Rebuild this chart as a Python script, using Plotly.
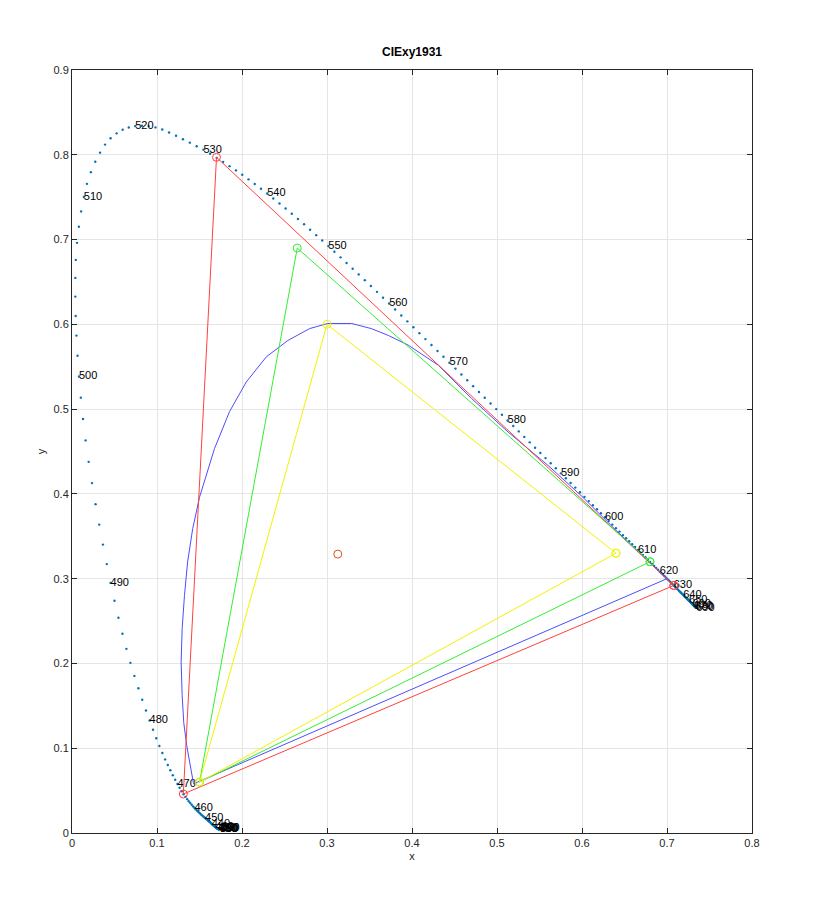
import plotly.graph_objects as go

# CIE 1931 2-degree spectral locus, one point per nm from 360 to 690 nm
locus_nm = list(range(360, 691))
locus_x = [
    0.1756, 0.1755, 0.1754, 0.1754, 0.1753, 0.1752, 0.1751, 0.1750, 0.1750, 0.1749,
    0.1748, 0.1747, 0.1747, 0.1746, 0.1745, 0.1745, 0.1744, 0.1743, 0.1742, 0.1742,
    0.1741, 0.1741, 0.1741, 0.1740, 0.1740, 0.1740, 0.1740, 0.1739, 0.1739, 0.1738,
    0.1738, 0.1738, 0.1737, 0.1737, 0.1736, 0.1736, 0.1735, 0.1735, 0.1734, 0.1734,
    0.1733, 0.1732, 0.1732, 0.1731, 0.1731, 0.1730, 0.1729, 0.1728, 0.1728, 0.1727,
    0.1726, 0.1725, 0.1724, 0.1723, 0.1722, 0.1721, 0.1720, 0.1718, 0.1717, 0.1716,
    0.1714, 0.1712, 0.1710, 0.1708, 0.1706, 0.1703, 0.1700, 0.1698, 0.1695, 0.1692,
    0.1689, 0.1685, 0.1681, 0.1677, 0.1673, 0.1669, 0.1664, 0.1659, 0.1654, 0.1649,
    0.1644, 0.1638, 0.1631, 0.1625, 0.1618, 0.1611, 0.1603, 0.1594, 0.1585, 0.1576,
    0.1566, 0.1556, 0.1545, 0.1534, 0.1522, 0.1510, 0.1497, 0.1484, 0.1470, 0.1455,
    0.1440, 0.1424, 0.1408, 0.1391, 0.1373, 0.1355, 0.1334, 0.1312, 0.1290, 0.1266,
    0.1241, 0.1214, 0.1186, 0.1157, 0.1127, 0.1096, 0.1063, 0.1028, 0.0991, 0.0953,
    0.0913, 0.0870, 0.0826, 0.0781, 0.0734, 0.0687, 0.0640, 0.0593, 0.0546, 0.0500,
    0.0454, 0.0409, 0.0364, 0.0320, 0.0277, 0.0235, 0.0196, 0.0160, 0.0130, 0.0104,
    0.0082, 0.0065, 0.0052, 0.0043, 0.0039, 0.0039, 0.0045, 0.0059, 0.0081, 0.0107,
    0.0139, 0.0176, 0.0222, 0.0274, 0.0330, 0.0389, 0.0454, 0.0525, 0.0596, 0.0668,
    0.0743, 0.0822, 0.0902, 0.0982, 0.1062, 0.1142, 0.1224, 0.1305, 0.1386, 0.1467,
    0.1547, 0.1625, 0.1702, 0.1778, 0.1854, 0.1929, 0.2003, 0.2077, 0.2150, 0.2223,
    0.2296, 0.2368, 0.2441, 0.2513, 0.2586, 0.2658, 0.2730, 0.2801, 0.2873, 0.2944,
    0.3016, 0.3087, 0.3159, 0.3230, 0.3302, 0.3373, 0.3445, 0.3516, 0.3588, 0.3659,
    0.3731, 0.3802, 0.3874, 0.3945, 0.4016, 0.4087, 0.4158, 0.4229, 0.4300, 0.4370,
    0.4441, 0.4511, 0.4581, 0.4650, 0.4719, 0.4788, 0.4856, 0.4924, 0.4991, 0.5058,
    0.5125, 0.5191, 0.5256, 0.5321, 0.5385, 0.5448, 0.5510, 0.5571, 0.5632, 0.5692,
    0.5752, 0.5810, 0.5866, 0.5921, 0.5976, 0.6029, 0.6079, 0.6128, 0.6176, 0.6223,
    0.6270, 0.6314, 0.6357, 0.6399, 0.6441, 0.6482, 0.6519, 0.6555, 0.6590, 0.6624,
    0.6658, 0.6688, 0.6717, 0.6746, 0.6774, 0.6801, 0.6825, 0.6849, 0.6872, 0.6894,
    0.6915, 0.6935, 0.6954, 0.6972, 0.6989, 0.7006, 0.7022, 0.7037, 0.7051, 0.7065,
    0.7079, 0.7092, 0.7104, 0.7116, 0.7128, 0.7140, 0.7150, 0.7160, 0.7170, 0.7180,
    0.7190, 0.7198, 0.7206, 0.7214, 0.7222, 0.7230, 0.7236, 0.7242, 0.7248, 0.7254,
    0.7260, 0.7265, 0.7270, 0.7274, 0.7279, 0.7283, 0.7287, 0.7290, 0.7294, 0.7297,
    0.7300, 0.7302, 0.7304, 0.7307, 0.7309, 0.7311, 0.7313, 0.7315, 0.7316, 0.7318,
    0.7320, 0.7321, 0.7323, 0.7324, 0.7326, 0.7327, 0.7328, 0.7330, 0.7331, 0.7333,
    0.7334, 0.7335, 0.7336, 0.7338, 0.7339, 0.7340, 0.7341, 0.7342, 0.7343, 0.7343,
    0.7344,
]
locus_y = [
    0.0053, 0.0053, 0.0053, 0.0053, 0.0053, 0.0053, 0.0053, 0.0052, 0.0052, 0.0052,
    0.0052, 0.0052, 0.0051, 0.0051, 0.0050, 0.0050, 0.0050, 0.0050, 0.0050, 0.0050,
    0.0050, 0.0050, 0.0050, 0.0050, 0.0050, 0.0050, 0.0050, 0.0050, 0.0049, 0.0049,
    0.0049, 0.0049, 0.0049, 0.0049, 0.0049, 0.0049, 0.0049, 0.0049, 0.0048, 0.0048,
    0.0048, 0.0048, 0.0048, 0.0048, 0.0048, 0.0048, 0.0048, 0.0048, 0.0048, 0.0048,
    0.0048, 0.0048, 0.0048, 0.0048, 0.0048, 0.0048, 0.0048, 0.0049, 0.0049, 0.0050,
    0.0051, 0.0052, 0.0053, 0.0055, 0.0056, 0.0058, 0.0060, 0.0062, 0.0064, 0.0066,
    0.0069, 0.0072, 0.0075, 0.0079, 0.0082, 0.0086, 0.0090, 0.0095, 0.0099, 0.0104,
    0.0109, 0.0114, 0.0120, 0.0126, 0.0132, 0.0138, 0.0145, 0.0153, 0.0161, 0.0169,
    0.0177, 0.0186, 0.0195, 0.0205, 0.0216, 0.0227, 0.0239, 0.0252, 0.0266, 0.0281,
    0.0297, 0.0314, 0.0333, 0.0353, 0.0375, 0.0399, 0.0426, 0.0457, 0.0493, 0.0533,
    0.0578, 0.0628, 0.0682, 0.0740, 0.0802, 0.0868, 0.0943, 0.1026, 0.1118, 0.1218,
    0.1327, 0.1445, 0.1572, 0.1708, 0.1853, 0.2007, 0.2172, 0.2350, 0.2539, 0.2739,
    0.2950, 0.3172, 0.3402, 0.3638, 0.3879, 0.4127, 0.4378, 0.4631, 0.4884, 0.5135,
    0.5384, 0.5629, 0.5867, 0.6098, 0.6327, 0.6548, 0.6760, 0.6961, 0.7151, 0.7332,
    0.7502, 0.7657, 0.7795, 0.7917, 0.8025, 0.8120, 0.8195, 0.8253, 0.8295, 0.8322,
    0.8338, 0.8343, 0.8338, 0.8323, 0.8298, 0.8262, 0.8224, 0.8184, 0.8143, 0.8101,
    0.8059, 0.8012, 0.7964, 0.7915, 0.7866, 0.7816, 0.7764, 0.7710, 0.7655, 0.7599,
    0.7543, 0.7485, 0.7426, 0.7366, 0.7305, 0.7243, 0.7180, 0.7116, 0.7052, 0.6988,
    0.6923, 0.6857, 0.6790, 0.6723, 0.6656, 0.6589, 0.6521, 0.6452, 0.6383, 0.6314,
    0.6245, 0.6175, 0.6105, 0.6035, 0.5966, 0.5896, 0.5826, 0.5756, 0.5686, 0.5617,
    0.5547, 0.5478, 0.5409, 0.5340, 0.5271, 0.5202, 0.5134, 0.5067, 0.5000, 0.4933,
    0.4866, 0.4801, 0.4737, 0.4672, 0.4608, 0.4544, 0.4483, 0.4422, 0.4362, 0.4302,
    0.4242, 0.4185, 0.4129, 0.4074, 0.4019, 0.3965, 0.3915, 0.3866, 0.3818, 0.3771,
    0.3725, 0.3681, 0.3638, 0.3596, 0.3555, 0.3514, 0.3477, 0.3442, 0.3407, 0.3373,
    0.3340, 0.3310, 0.3281, 0.3253, 0.3225, 0.3197, 0.3173, 0.3149, 0.3127, 0.3105,
    0.3083, 0.3064, 0.3046, 0.3028, 0.3010, 0.2993, 0.2978, 0.2963, 0.2948, 0.2934,
    0.2920, 0.2907, 0.2895, 0.2883, 0.2871, 0.2859, 0.2849, 0.2839, 0.2829, 0.2819,
    0.2809, 0.2801, 0.2793, 0.2785, 0.2777, 0.2770, 0.2764, 0.2758, 0.2752, 0.2746,
    0.2740, 0.2735, 0.2730, 0.2726, 0.2721, 0.2717, 0.2713, 0.2710, 0.2706, 0.2703,
    0.2700, 0.2698, 0.2696, 0.2693, 0.2691, 0.2689, 0.2687, 0.2685, 0.2684, 0.2682,
    0.2680, 0.2679, 0.2677, 0.2676, 0.2674, 0.2673, 0.2672, 0.2670, 0.2669, 0.2667,
    0.2666, 0.2665, 0.2664, 0.2662, 0.2661, 0.2660, 0.2659, 0.2658, 0.2657, 0.2657,
    0.2656,
]

# gamut triangles (closed), vertices R, G, B
rec2020_x = [0.708, 0.170, 0.131, 0.708]
rec2020_y = [0.292, 0.797, 0.046, 0.292]
p3_x = [0.680, 0.265, 0.150, 0.680]
p3_y = [0.320, 0.690, 0.060, 0.320]
srgb_x = [0.640, 0.300, 0.150, 0.640]
srgb_y = [0.330, 0.600, 0.060, 0.330]

# curved blue outline
curve_x = [0.143, 0.138, 0.135, 0.1315, 0.1296, 0.1284, 0.1296, 0.1323, 0.136,
           0.142, 0.150, 0.1677, 0.1853, 0.205, 0.2286, 0.254, 0.2796, 0.301,
           0.329, 0.352, 0.372, 0.3955, 0.407, 0.431, 0.470, 0.513, 0.560,
           0.600, 0.640, 0.670, 0.700, 0.143]
curve_y = [0.058, 0.085, 0.103, 0.130, 0.162, 0.2015, 0.241, 0.280, 0.3195,
           0.359, 0.396, 0.4535, 0.497, 0.532, 0.5616, 0.581, 0.595, 0.601,
           0.601, 0.595, 0.587, 0.5755, 0.5675, 0.5517, 0.5126, 0.473, 0.4336,
           0.397, 0.357, 0.328, 0.300, 0.058]

white_x = [0.3127]
white_y = [0.3290]

x_ticks = [0, 0.1, 0.2, 0.3, 0.4, 0.5, 0.6, 0.7, 0.8]
x_tick_text = ["0", "0.1", "0.2", "0.3", "0.4", "0.5", "0.6", "0.7", "0.8"]
y_ticks = [0, 0.1, 0.2, 0.3, 0.4, 0.5, 0.6, 0.7, 0.8, 0.9]
y_tick_text = ["0", "0.1", "0.2", "0.3", "0.4", "0.5", "0.6", "0.7", "0.8", "0.9"]

# every 10 nm gets a label
label_x = locus_x[::10]
label_y = locus_y[::10]
label_text = [str(nm) for nm in locus_nm[::10]]

FONT = "Liberation Sans, Arial, sans-serif"

fig = go.Figure()

fig.add_trace(go.Scatter(
    x=locus_x, y=locus_y, mode="markers",
    marker=dict(color="#0072BD", size=2.4), name="locus"
))
fig.add_trace(go.Scatter(
    x=label_x, y=label_y, mode="text", text=label_text,
    textposition="middle right",
    textfont=dict(family=FONT, size=11, color="black"), name="nm"
))

fig.add_trace(go.Scatter(
    x=curve_x, y=curve_y, mode="lines",
    line=dict(color="#4d4dff", width=1), name="curve"
))
for tx, ty, col in [(rec2020_x, rec2020_y, "#ff4040"),
                    (p3_x, p3_y, "#33ee33"),
                    (srgb_x, srgb_y, "#f2f200")]:
    fig.add_trace(go.Scatter(
        x=tx, y=ty, mode="lines+markers",
        line=dict(color=col, width=1),
        marker=dict(symbol="circle-open", size=8, color=col, line=dict(width=1)),
    ))

fig.add_trace(go.Scatter(
    x=white_x, y=white_y, mode="markers",
    marker=dict(symbol="circle-open", size=8, color="#D95319", line=dict(width=1)),
    name="white"
))

axis_common = dict(
    showgrid=True, gridcolor="#e5e5e5", gridwidth=1,
    zeroline=False, showline=True, linecolor="#262626", linewidth=1,
    mirror="ticks", ticks="inside", ticklen=5, tickcolor="#262626",
    tickfont=dict(family=FONT, size=11, color="#262626"),
)

# the page puts the figure 8 px in from the top-left corner
fig.update_layout(
    width=820, height=920,
    margin=dict(l=64, r=76, t=62, b=95),
    paper_bgcolor="white", plot_bgcolor="white",
    showlegend=False,
    title=dict(text="<b>CIExy1931</b>", x=0.5, xref="paper", y=(920 - 44) / 920,
               yref="container", yanchor="middle", xanchor="center",
               font=dict(family=FONT, size=12, color="black")),
    xaxis=dict(range=[0, 0.8], tickvals=x_ticks, ticktext=x_tick_text,
               title=dict(text="x", standoff=4,
                          font=dict(family=FONT, size=11, color="#262626")),
               **axis_common),
    yaxis=dict(range=[0, 0.9], tickvals=y_ticks, ticktext=y_tick_text,
               title=dict(text="y", standoff=5,
                          font=dict(family=FONT, size=11, color="#262626")),
               **axis_common),
)

fig.write_html("out.html")
